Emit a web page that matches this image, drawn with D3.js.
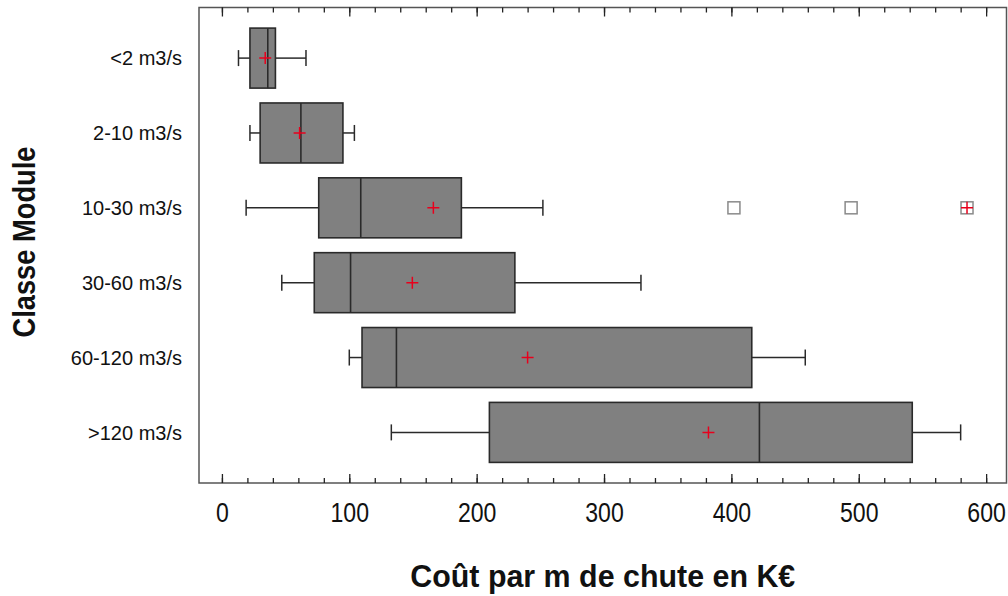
<!DOCTYPE html>
<html>
<head>
<meta charset="utf-8">
<script src="https://cdn.jsdelivr.net/npm/d3@7"></script>
<style>
  html, body { margin: 0; padding: 0; background: #fff; }
  svg { display: block; }
  text { font-family: "Liberation Sans", Arial, sans-serif; fill: #111; }
</style>
</head>
<body>
<svg id="chart" width="1008" height="596"></svg>
<script>
// ---- data ----
const categories = ["<2 m3/s", "2-10 m3/s", "10-30 m3/s", "30-60 m3/s", "60-120 m3/s", ">120 m3/s"];
const whiskerLow  = [13, 22, 19, 47, 100, 133];
const q1          = [22, 30, 76, 72.5, 110, 210];
const median      = [36, 62, 109, 101, 137, 422];
const q3          = [42, 95, 188, 230, 416, 542];
const whiskerHigh = [66, 104, 252, 329, 458, 580];
const mean        = [34, 61, 166, 149.5, 240, 382];
const outlierCategory = ["10-30 m3/s", "10-30 m3/s", "10-30 m3/s"];
const outlierValue    = [402, 494, 585];
const outlierFar      = [false, false, true];
const xTicksMajor = [0, 100, 200, 300, 400, 500, 600];
const xTicksMinor = d3.range(0, 601, 20);
const xTitle = "Coût par m de chute en K€";
const yTitle = "Classe Module";

// ---- layout ----
const pLeft = 199, pRight = 1006.5, pTop = 7.5, pBottom = 483;
const svg = d3.select("#chart");

const x = d3.scaleLinear().domain([-18, 616]).range([pLeft, pRight]);
const y = d3.scalePoint().domain(categories).range([pTop, pBottom]).padding(0.676);
const boxH = 60, capH = 16, mk = 6, sq = 6;

// frame
svg.append("rect")
  .attr("x", pLeft).attr("y", pTop)
  .attr("width", pRight - pLeft).attr("height", pBottom - pTop)
  .attr("fill", "none").attr("stroke", "#555").attr("stroke-width", 1.5);

// top axis (ticks inward)
const topG = svg.append("g").attr("transform", `translate(0,${pTop})`);
topG.call(d3.axisTop(x).tickValues(xTicksMinor).tickSize(-5).tickFormat(""));
topG.append("g").call(d3.axisTop(x).tickValues(xTicksMajor).tickSize(-9).tickFormat(""));
topG.selectAll(".domain").remove();

// bottom axis (ticks inward, labels below)
const botG = svg.append("g").attr("transform", `translate(0,${pBottom})`);
botG.call(d3.axisBottom(x).tickValues(xTicksMinor).tickSize(-5).tickFormat(""));
const botMajor = botG.append("g").call(
  d3.axisBottom(x).tickValues(xTicksMajor).tickSize(-9).tickPadding(19).tickFormat(d3.format("d")));
botG.selectAll(".domain").remove();
svg.selectAll(".tick line").attr("stroke", "#222").attr("stroke-width", 1.3);
botMajor.selectAll("text")
  .attr("font-size", 27.5).attr("font-family", "'Liberation Sans', Arial, sans-serif")
  .attr("fill", "#111").attr("dy", "0.71em")
  .attr("transform", "scale(0.84,1)");

// category labels
svg.append("g").selectAll("text").data(categories).join("text")
  .attr("x", 182).attr("y", d => y(d)).attr("dy", "0.36em")
  .attr("text-anchor", "end").attr("font-size", 20).text(d => d);

// boxes
const rows = categories.map((c, i) => ({
  c, lo: whiskerLow[i], q1: q1[i], med: median[i], q3: q3[i], hi: whiskerHigh[i], mean: mean[i]
}));
const g = svg.append("g");
rows.forEach(r => {
  const cy = y(r.c);
  const stroke = "#2a2a2a";
  g.append("line").attr("x1", x(r.lo)).attr("x2", x(r.q1)).attr("y1", cy).attr("y2", cy)
    .attr("stroke", stroke).attr("stroke-width", 1.5);
  g.append("line").attr("x1", x(r.q3)).attr("x2", x(r.hi)).attr("y1", cy).attr("y2", cy)
    .attr("stroke", stroke).attr("stroke-width", 1.5);
  [r.lo, r.hi].forEach(v => {
    g.append("line").attr("x1", x(v)).attr("x2", x(v))
      .attr("y1", cy - capH / 2).attr("y2", cy + capH / 2)
      .attr("stroke", stroke).attr("stroke-width", 1.5);
  });
  g.append("rect").attr("x", x(r.q1)).attr("y", cy - boxH / 2)
    .attr("width", x(r.q3) - x(r.q1)).attr("height", boxH)
    .attr("fill", "#808080").attr("stroke", stroke).attr("stroke-width", 1.6);
  g.append("line").attr("x1", x(r.med)).attr("x2", x(r.med))
    .attr("y1", cy - boxH / 2).attr("y2", cy + boxH / 2)
    .attr("stroke", stroke).attr("stroke-width", 1.6);
  g.append("path")
    .attr("d", `M${x(r.mean) - mk},${cy}H${x(r.mean) + mk}M${x(r.mean)},${cy - mk}V${cy + mk}`)
    .attr("stroke", "#e8001c").attr("stroke-width", 1.5).attr("fill", "none");
});

// outliers
outlierValue.forEach((v, i) => {
  const cx = x(v), cy = y(outlierCategory[i]);
  g.append("rect").attr("x", cx - sq).attr("y", cy - sq)
    .attr("width", 2 * sq).attr("height", 2 * sq)
    .attr("fill", "#fff").attr("stroke", "#8a8a8a").attr("stroke-width", 1.5);
  if (outlierFar[i]) {
    g.append("path")
      .attr("d", `M${cx - sq},${cy}H${cx + sq}M${cx},${cy - sq}V${cy + sq}`)
      .attr("stroke", "#e8001c").attr("stroke-width", 1.5);
  }
});

// axis titles
svg.append("text")
  .attr("x", (pLeft + pRight) / 2).attr("y", 587)
  .attr("text-anchor", "middle").attr("font-size", 32).attr("font-weight", "bold")
  .attr("textLength", 385).attr("lengthAdjust", "spacingAndGlyphs")
  .text(xTitle);
svg.append("text")
  .attr("transform", `translate(35,242) rotate(-90)`)
  .attr("text-anchor", "middle").attr("font-size", 32).attr("font-weight", "bold")
  .attr("textLength", 191).attr("lengthAdjust", "spacingAndGlyphs")
  .text(yTitle);
</script>
</body>
</html>
